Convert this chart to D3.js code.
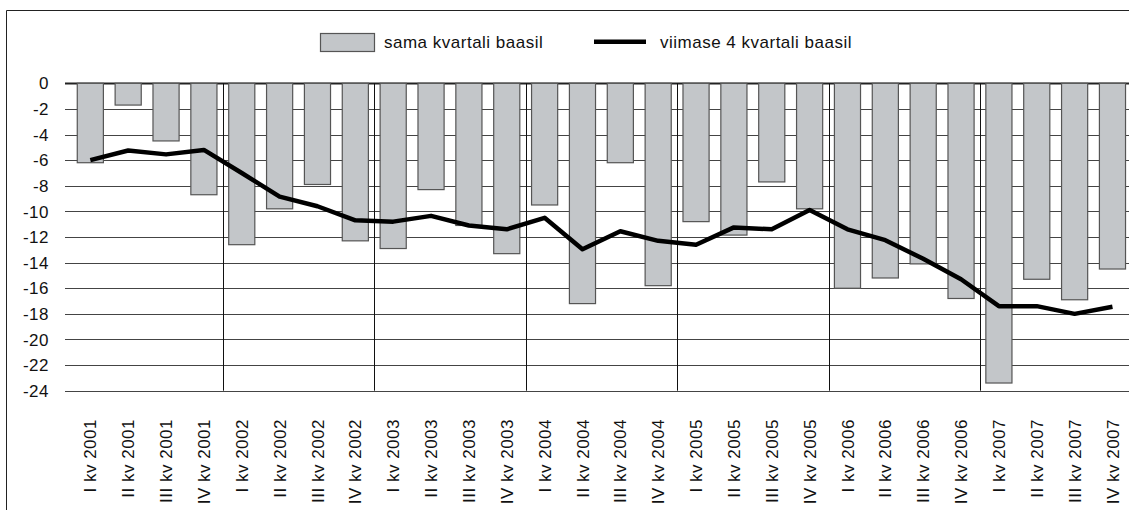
<!DOCTYPE html>
<html>
<head>
<meta charset="utf-8">
<script src="https://cdn.jsdelivr.net/npm/d3@7"></script>
<style>
  body { margin: 0; background: #fff; }
  svg text { font-family: "Liberation Sans", Arial, Helvetica, sans-serif; font-size: 17px; letter-spacing: 0.5px; fill: #111; }
</style>
</head>
<body>
<div id="chart"></div>
<script>
const categories = [
  'I kv 2001', 'II kv 2001', 'III kv 2001', 'IV kv 2001',
  'I kv 2002', 'II kv 2002', 'III kv 2002', 'IV kv 2002',
  'I kv 2003', 'II kv 2003', 'III kv 2003', 'IV kv 2003',
  'I kv 2004', 'II kv 2004', 'III kv 2004', 'IV kv 2004',
  'I kv 2005', 'II kv 2005', 'III kv 2005', 'IV kv 2005',
  'I kv 2006', 'II kv 2006', 'III kv 2006', 'IV kv 2006',
  'I kv 2007', 'II kv 2007', 'III kv 2007', 'IV kv 2007',
];
const sameQuarter = [
  -6.2, -1.7, -4.5, -8.7, -12.6, -9.8, -7.9, -12.3,
  -12.9, -8.3, -11.1, -13.3, -9.5, -17.2, -6.2, -15.8,
  -10.8, -11.85, -7.7, -9.8, -16.0, -15.2, -14.1, -16.8,
  -23.4, -15.3, -16.9, -14.5,
];
const lastFour = [
  -6.0, -5.25, -5.55, -5.2, -7.0, -8.85, -9.6, -10.7,
  -10.8, -10.35, -11.1, -11.4, -10.5, -12.95, -11.55, -12.3,
  -12.6, -11.25, -11.4, -9.9, -11.4, -12.25, -13.7, -15.3,
  -17.4, -17.4, -18.0, -17.45,
];
const yTicks = [0, -2, -4, -6, -8, -10, -12, -14, -16, -18, -20, -22, -24];
const seriesNames = ['sama kvartali baasil', 'viimase 4 kvartali baasil'];

const WIDTH = 1129;
const HEIGHT = 510;
const BAR_FILL = '#c3c6c9';
const BAR_STROKE = '#555';

const svg = d3.create('svg').attr('width', WIDTH).attr('height', HEIGHT);

// outer frame (right and bottom edges are cut off in the original)
svg.append('path')
  .attr('d', `M6.5,${HEIGHT + 2}V10.5H${WIDTH + 2}`)
  .attr('fill', 'none')
  .attr('stroke', '#222')
  .attr('stroke-width', 1);

const xScale = d3.scaleBand()
  .domain(categories)
  .range([71.4, 1131.4])
  .paddingInner(0.31)
  .paddingOuter(0.155);

const yScale = d3.scaleLinear().domain([-24, 0]).range([390.7, 83.3]);

// horizontal gridlines
svg.append('g')
  .selectAll('line')
  .data(yTicks)
  .join('line')
  .attr('x1', 65)
  .attr('x2', WIDTH)
  .attr('y1', (d) => Math.round(yScale(d)) + 0.5)
  .attr('y2', (d) => Math.round(yScale(d)) + 0.5)
  .attr('stroke', (d) => (d === 0 ? '#222' : '#444'))
  .attr('stroke-width', (d) => (d === 0 ? 2 : 1));

// y labels
svg.append('g')
  .selectAll('text')
  .data(yTicks)
  .join('text')
  .attr('x', 49)
  .attr('y', (d) => yScale(d))
  .attr('dy', '0.36em')
  .attr('text-anchor', 'end')
  .text((d) => d);

// year separators
const gap = (xScale.step() - xScale.bandwidth()) / 2;
const yearStarts = categories.filter((c, i) => i > 0 && c.startsWith('I kv'));
svg.append('g')
  .selectAll('line')
  .data(yearStarts)
  .join('line')
  .attr('x1', (d) => Math.round(xScale(d) - gap) + 0.5)
  .attr('x2', (d) => Math.round(xScale(d) - gap) + 0.5)
  .attr('y1', yScale(0))
  .attr('y2', yScale(-24))
  .attr('stroke', '#111')
  .attr('stroke-width', 1);

// bars
svg.append('g')
  .selectAll('rect')
  .data(sameQuarter)
  .join('rect')
  .attr('x', (d, i) => xScale(categories[i]))
  .attr('y', yScale(0))
  .attr('width', xScale.bandwidth())
  .attr('height', (d) => yScale(d) - yScale(0))
  .attr('fill', BAR_FILL)
  .attr('stroke', BAR_STROKE)
  .attr('stroke-width', 1.2);

// line
const line = d3.line()
  .x((d, i) => xScale(categories[i]) + xScale.bandwidth() / 2)
  .y((d) => yScale(d));

svg.append('path')
  .datum(lastFour)
  .attr('d', line)
  .attr('fill', 'none')
  .attr('stroke', '#000')
  .attr('stroke-width', 4.5)
  .attr('stroke-linejoin', 'round');

// x labels
svg.append('g')
  .selectAll('text')
  .data(categories)
  .join('text')
  .attr('transform', (d) => `translate(${xScale(d) + xScale.bandwidth() / 2}, 419) rotate(-90)`)
  .attr('dy', '0.36em')
  .attr('text-anchor', 'end')
  .text((d) => d);

// legend
const legend = svg.append('g');
legend.append('rect')
  .attr('x', 320.5).attr('y', 33.5)
  .attr('width', 54).attr('height', 18)
  .attr('fill', BAR_FILL).attr('stroke', BAR_STROKE).attr('stroke-width', 1.2);
legend.append('text').attr('x', 384).attr('y', 47.5).text(seriesNames[0]);
legend.append('line')
  .attr('x1', 594).attr('x2', 646)
  .attr('y1', 41.7).attr('y2', 41.7)
  .attr('stroke', '#000').attr('stroke-width', 4.5);
legend.append('text').attr('x', 660).attr('y', 47.5).text(seriesNames[1]);

document.getElementById('chart').appendChild(svg.node());
</script>
</body>
</html>
